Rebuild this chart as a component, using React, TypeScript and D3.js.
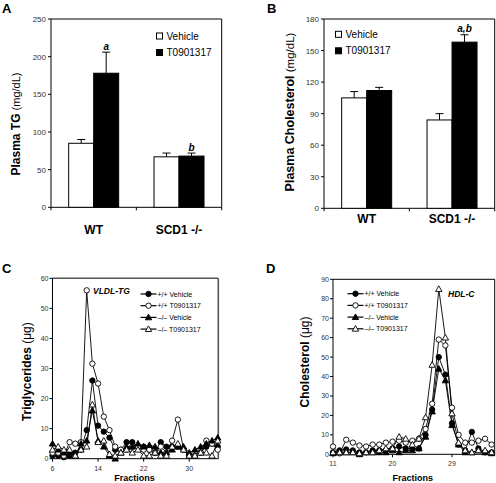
import React from 'react';
import * as d3 from 'd3';

// ---------- Data ----------
const groups = ['WT', 'SCD1 -/-'];
const treatments = ['Vehicle', 'T0901317'];

const tgVehicle = [85, 67];
const tgT09 = [178, 68];
const tgVehicleErr = [5, 5];
const tgT09Err = [28, 4];
const tgLettersT09 = ['a', 'b'];
const tgTicks = [0, 50, 100, 150, 200, 250];

const cholVehicle = [105, 84];
const cholT09 = [112, 158];
const cholVehicleErr = [6, 6];
const cholT09Err = [3, 7];
const cholLettersT09 = ['', 'a,b'];
const cholTicks = [0, 30, 60, 90, 120, 150, 180];

const seriesNames = ['+/+ Vehicle', '+/+ T0901317', '\u2013/\u2013 Vehicle', '\u2013/\u2013 T0901317'];

const fractionsC = [6, 7, 8, 9, 10, 11, 12, 13, 14, 15, 16, 17, 18, 19, 20, 21, 22, 23, 24, 25, 26, 27, 28, 29, 30, 31, 32, 33, 34, 35];
const cWtVehicle = [1, 1, 0.5, 1, 2, 3, 9.5, 26, 11, 9, 7, 3, 3, 5.5, 5.5, 4, 4, 3, 2, 5.5, 4, 4, 4, 3, 1, 1, 2, 4, 5, 4];
const cWtT09 = [2, 2, 1, 5.5, 5, 5.5, 56, 31.6, 25, 14, 9.5, 4, 3, 3, 4, 4, 3, 3, 2, 4, 2, 6, 13, 3, 1, 1, 2, 6, 5, 3];
const cKoVehicle = [5, 3, 2, 2, 1, 5, 6, 16, 6, 4, 1, 0, 2, 4, 4, 5, 4, 4.5, 4, 2, 2, 3, 4, 4, 2, 3, 4, 5, 6, 7];
const cKoT09 = [3, 4, 3, 3, 1, 3, 4, 18, 5.5, 6, 1.5, 1, 2, 3, 2, 3, 1, 1, 2, 1, 1, 4, 5, 3, 1, 1, 2, 2, 1, 6];
const cTicksX = [6, 14, 22, 30];
const cTicksY = [0, 10, 20, 30, 40, 50, 60];

const fractionsD = [11, 12, 13, 14, 15, 16, 17, 18, 19, 20, 21, 22, 23, 24, 25, 26, 27, 28, 29, 30, 31, 32, 33, 34, 35];
const dWtVehicle = [1, 2, 2.5, 2, 1, 1, 2, 2, 2, 3, 4, 3, 3, 3, 10, 23, 50, 41, 16, 5, 2, 11.5, 3, 1, 1];
const dWtT09 = [4, 0.5, 7.5, 6, 4.5, 4, 5, 5, 6, 6.5, 7, 6, 7, 8, 13, 26, 59, 56, 24, 10, 6, 6, 7, 8, 5];
const dKoVehicle = [0.5, 1, 1, 1, 0, 1, 1, 1, 1, 2, 1, 2, 2, 3, 9, 22, 44, 38, 15, 5, 1, 1, 2, 1, 0.5];
const dKoT09 = [1, 1, 1, 1, 0.5, 1, 1, 2, 3, 3, 9, 8, 5, 8, 19, 46, 85, 60, 21, 6, 2, 1, 2, 2, 1];
const dTicksX = [11, 20, 29];
const dTicksY = [0, 10, 20, 30, 40, 50, 60, 70, 80, 90];

const FONT = 'Arial, "Liberation Sans", Helvetica, sans-serif';
const TICK_COLOR = '#333';

// ---------- Bar panel ----------
function BarPanel(p: any) {
  const y = d3.scaleLinear().domain([0, p.yMax]).range([p.bottom, p.top]);
  const x = d3.scaleBand().domain(groups).range([p.left, p.right]);
  const barW = 25;
  const series = [
    { name: treatments[0], vals: p.veh, errs: p.vehErr, fill: '#fff', letters: null },
    { name: treatments[1], vals: p.t09, errs: p.t09Err, fill: '#000', letters: p.letters },
  ];
  return (
    <g fontFamily={FONT}>
      <text x={p.letterX} y={p.letterY} fontSize={13} fontWeight="bold">{p.panel}</text>
      <line x1={p.left} x2={p.right} y1={p.top} y2={p.top} stroke="#000" />
      <line x1={p.right} x2={p.right} y1={p.top} y2={p.bottom} stroke="#000" />
      <line x1={p.left} x2={p.left} y1={p.top} y2={p.bottom} stroke="#000" />
      <line x1={p.left} x2={p.right} y1={p.bottom} y2={p.bottom} stroke="#000" />
      {p.ticks.map((t: number) => (
        <g key={t}>
          <line x1={p.left - 3} x2={p.left} y1={y(t)} y2={y(t)} stroke="#000" />
          <text x={p.left - 5} y={y(t) + 3} fontSize={8} textAnchor="end" fill={TICK_COLOR}>{t}</text>
        </g>
      ))}
      {[p.left, p.left + x.bandwidth(), p.right].map((v: number, i: number) => (
        <line key={i} x1={v} x2={v} y1={p.bottom} y2={p.bottom + 3} stroke="#000" />
      ))}
      {groups.map((g, gi) => {
        const c = (x(g) as number) + x.bandwidth() / 2;
        return (
          <g key={g}>
            {series.map((s, si) => {
              const bx = c - barW + si * barW;
              const v = s.vals[gi];
              const e = s.errs[gi];
              const cx = bx + barW / 2;
              return (
                <g key={si}>
                  <line x1={cx} x2={cx} y1={y(v)} y2={y(v + e)} stroke="#000" />
                  <line x1={cx - 4} x2={cx + 4} y1={y(v + e)} y2={y(v + e)} stroke="#000" />
                  <rect x={bx} y={y(v)} width={barW} height={p.bottom - y(v)} fill={s.fill} stroke="#000" />
                  {s.letters && s.letters[gi] ? (
                    <text x={cx} y={y(v + e) - 2.5} fontSize={10} fontWeight="bold" fontStyle="italic" textAnchor="middle">{s.letters[gi]}</text>
                  ) : null}
                </g>
              );
            })}
            <text x={c} y={p.catY} fontSize={12} fontWeight="bold" textAnchor="middle">{g}</text>
          </g>
        );
      })}
      {series.map((s, si) => (
        <g key={s.name}>
          <rect x={p.legX} y={p.legY + si * 16.5 - 3} width={6} height={6} fill={s.fill} stroke="#000" />
          <text x={p.legX + 10} y={p.legY + si * 16.5 + 3.5} fontSize={10}>{s.name}</text>
        </g>
      ))}
      <text transform={`translate(${p.labX},${p.labY}) rotate(-90)`} textAnchor="middle">
        <tspan fontWeight="bold" fontSize={p.boldSize}>{p.labBold}</tspan>
        <tspan fontSize={p.normSize}>{' ' + p.labNorm}</tspan>
      </text>
    </g>
  );
}

// ---------- Line panel ----------
function Marker({ kind, cx, cy }: any) {
  const filled = kind === 0 || kind === 2;
  const fill = filled ? '#000' : '#fff';
  if (kind === 0 || kind === 1) {
    return <circle cx={cx} cy={cy} r={2.7} fill={fill} stroke="#000" strokeWidth={0.9} />;
  }
  const s = 3.2;
  const pts = `${cx},${cy - s} ${cx + s},${cy + s * 0.75} ${cx - s},${cy + s * 0.75}`;
  return <polygon points={pts} fill={fill} stroke="#000" strokeWidth={0.9} />;
}

function LinePanel(p: any) {
  const x = d3.scaleLinear().domain(p.xDomain).range([p.left, p.right]);
  const y = d3.scaleLinear().domain([0, p.yMax]).range([p.bottom, p.top]);
  const line = d3.line<number>().x((_, i) => x(p.fractions[i])).y((d) => y(d));
  return (
    <g fontFamily={FONT}>
      <text x={p.letterX} y={p.letterY} fontSize={13} fontWeight="bold">{p.panel}</text>
      <line x1={p.left} x2={p.right} y1={p.top} y2={p.top} stroke={p.boxColor} strokeWidth={p.boxWidth} />
      <line x1={p.right} x2={p.right} y1={p.top} y2={p.bottom} stroke={p.boxColor} strokeWidth={p.boxWidth} />
      <line x1={p.left} x2={p.left} y1={p.top} y2={p.bottom} stroke="#000" />
      <line x1={p.left} x2={p.right} y1={p.bottom} y2={p.bottom} stroke="#000" />
      {p.yTicks.map((t: number) => (
        <g key={t}>
          <line x1={p.left - 3} x2={p.left} y1={y(t)} y2={y(t)} stroke="#000" />
          <text x={p.left - 4} y={y(t) + 2.5} fontSize={7} textAnchor="end" fill={TICK_COLOR}>{t}</text>
        </g>
      ))}
      {p.xTicks.map((t: number) => (
        <g key={t}>
          <line x1={x(t)} x2={x(t)} y1={p.bottom} y2={p.bottom + 3} stroke="#000" />
          <text x={x(t)} y={p.bottom + 12} fontSize={7} textAnchor="middle" fill={TICK_COLOR}>{t}</text>
        </g>
      ))}
      {p.series.map((s: number[], si: number) => (
        <path key={'l' + si} d={line(s) as string} fill="none" stroke="#000" strokeWidth={0.9} />
      ))}
      {p.series.map((s: number[], si: number) => (
        <g key={'m' + si}>
          {s.map((v: number, i: number) => (
            <Marker key={i} kind={si} cx={x(p.fractions[i])} cy={y(v)} />
          ))}
        </g>
      ))}
      {seriesNames.map((n, i) => (
        <g key={n}>
          <line x1={p.legX} x2={p.legX + 16} y1={p.legY + i * 11.7} y2={p.legY + i * 11.7} stroke="#000" strokeWidth={1.2} />
          <Marker kind={i} cx={p.legX + 8} cy={p.legY + i * 11.7} />
          <text x={p.legX + 17} y={p.legY + i * 11.7 + 2.5} fontSize={7}>{n}</text>
        </g>
      ))}
      <text x={p.noteX} y={p.noteY} fontSize={8.5} fontWeight="bold" fontStyle="italic">{p.note}</text>
      <text x={(p.left + p.right) / 2 - 1} y={481} fontSize={9} fontWeight="bold" textAnchor="middle">Fractions</text>
      <text transform={`translate(${p.labX},${p.labY}) rotate(-90)`} textAnchor="middle">
        <tspan fontWeight="bold" fontSize={12}>{p.labBold}</tspan>
        <tspan fontSize={12}>{' (\u03bcg)'}</tspan>
      </text>
    </g>
  );
}

export default function App() {
  return (
    <svg width={496} height={483} style={{ position: 'absolute', left: 0, top: 0, background: '#fff' }}>
      <rect width={496} height={483} fill="#fff" />
      <BarPanel panel="A" letterX={2} letterY={13} left={51} right={221.7} top={19} bottom={207.3}
        yMax={250} ticks={tgTicks} veh={tgVehicle} t09={tgT09} vehErr={tgVehicleErr} t09Err={tgT09Err}
        letters={tgLettersT09} catY={233.5} legX={156.5} legY={36} labX={19.5} labY={124}
        labBold="Plasma TG" labNorm="(mg/dL)" boldSize={12} normSize={11} />
      <BarPanel panel="B" letterX={267} letterY={13} left={324} right={494.7} top={19} bottom={208.3}
        yMax={180} ticks={cholTicks} veh={cholVehicle} t09={cholT09} vehErr={cholVehicleErr} t09Err={cholT09Err}
        letters={cholLettersT09} catY={222.5} legX={335.5} legY={34.3} labX={294} labY={112}
        labBold="Plasma Cholesterol" labNorm="(mg/dL)" boldSize={12.5} normSize={11.5} />
      <LinePanel panel="C" letterX={2} letterY={273} left={52.5} right={218.3} top={278.3} bottom={458.7}
        xDomain={[6, 35.1]} yMax={60} xTicks={cTicksX} yTicks={cTicksY} fractions={fractionsC}
        series={[cWtVehicle, cWtT09, cKoVehicle, cKoT09]} legX={140.5} legY={294}
        note="VLDL-TG" noteX={93} noteY={293.5} labX={31} labY={371.7} labBold="Triglycerides"
        boxColor="#555" boxWidth={1.6} />
      <LinePanel panel="D" letterX={266} letterY={273} left={333} right={494.7} top={279.3} bottom={454.3}
        xDomain={[11, 35.46]} yMax={90} xTicks={dTicksX} yTicks={dTicksY} fractions={fractionsD}
        series={[dWtVehicle, dWtT09, dKoVehicle, dKoT09]} legX={347.5} legY={293.7}
        note="HDL-C" noteX={448} noteY={296.5} labX={309} labY={362} labBold="Cholesterol"
        boxColor="#000" boxWidth={1} />
    </svg>
  );
}
